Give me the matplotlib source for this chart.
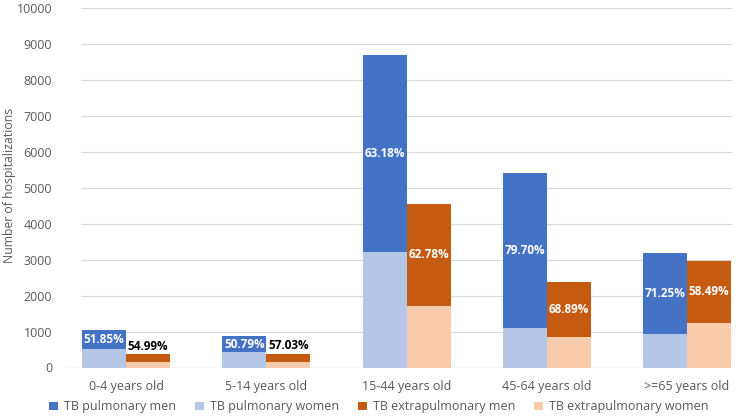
import matplotlib
matplotlib.use("Agg")
import matplotlib.pyplot as plt
import numpy as np

plt.rcParams['font.family'] = ['Open Sans', 'DejaVu Sans']

categories = ['0-4 years old', '5-14 years old', '15-44 years old', '45-64 years old', '>=65 years old']
pulm_women = [505, 430, 3200, 1100, 925]
pulm_men = [545, 445, 5490, 4315, 2260]
extra_women = [165, 158, 1700, 850, 1250]
extra_men = [200, 210, 2860, 1530, 1720]
pulm_labels = ['51.85%', '50.79%', '63.18%', '79.70%', '71.25%']
extra_labels = ['54.99%', '57.03%', '62.78%', '68.89%', '58.49%']
yticks = [0, 1000, 2000, 3000, 4000, 5000, 6000, 7000, 8000, 9000, 10000]

c_pm = '#4472C4'
c_pw = '#B4C7E7'
c_em = '#C55A11'
c_ew = '#F8CBAD'
grey = '#595959'

fig = plt.figure(figsize=(7.5, 4.17), dpi=100)
ax = fig.add_axes([66 / 750, 1 - 367.5 / 417, (732 - 66) / 750, (367.5 - 8) / 417])

x = np.arange(len(categories))
w = 0.314
xp = x - w / 2
xe = x + w / 2

ax.bar(xp, pulm_men, w, bottom=pulm_women, color=c_pm, label='TB pulmonary men', zorder=3)
ax.bar(xp, pulm_women, w, color=c_pw, label='TB pulmonary women', zorder=3)
ax.bar(xe, extra_men, w, bottom=extra_women, color=c_em, label='TB extrapulmonary men', zorder=3)
ax.bar(xe, extra_women, w, color=c_ew, label='TB extrapulmonary women', zorder=3)

for i in range(len(categories)):
    ax.text(xp[i], pulm_women[i] + pulm_men[i] / 2, pulm_labels[i], ha='center', va='center',
            color='white', fontsize=8.5, fontweight='bold', zorder=4)
    top = extra_women[i] + extra_men[i]
    if extra_men[i] < 600:
        ax.text(xe[i], top + 50, extra_labels[i], ha='center', va='bottom',
                color='black', fontsize=8.5, fontweight='bold', zorder=4)
    else:
        ax.text(xe[i], extra_women[i] + extra_men[i] / 2, extra_labels[i], ha='center', va='center',
                color='white', fontsize=8.5, fontweight='bold', zorder=4)

ax.set_xlim(-0.428, 4.32)
ax.set_ylim(0, 10000)
ax.hlines(yticks[1:], -0.32, 4.32, color='#d9d9d9', lw=0.8, zorder=1)
ax.axhline(0, color='#bfbfbf', lw=0.9, zorder=2)
for s in ax.spines.values():
    s.set_visible(False)

ax.set_yticks(yticks)
ax.set_xticks(x)
ax.set_xticklabels(categories)
ax.tick_params(axis='both', length=0, colors=grey, labelsize=9)
ax.tick_params(axis='y', pad=10)
ax.tick_params(axis='x', pad=9)
fig.text(0.013, 0.555, 'Number of hospitalizations', rotation=90, ha='center', va='center',
         color=grey, fontsize=8.8)

fig.legend(loc='lower left', bbox_to_anchor=(38 / 750, -0.018), ncol=4, frameon=False,
           fontsize=9, handlelength=0.7, handleheight=0.7, handletextpad=0.5,
           columnspacing=1.5, labelcolor=grey)

fig.savefig('out.png', dpi=100)
